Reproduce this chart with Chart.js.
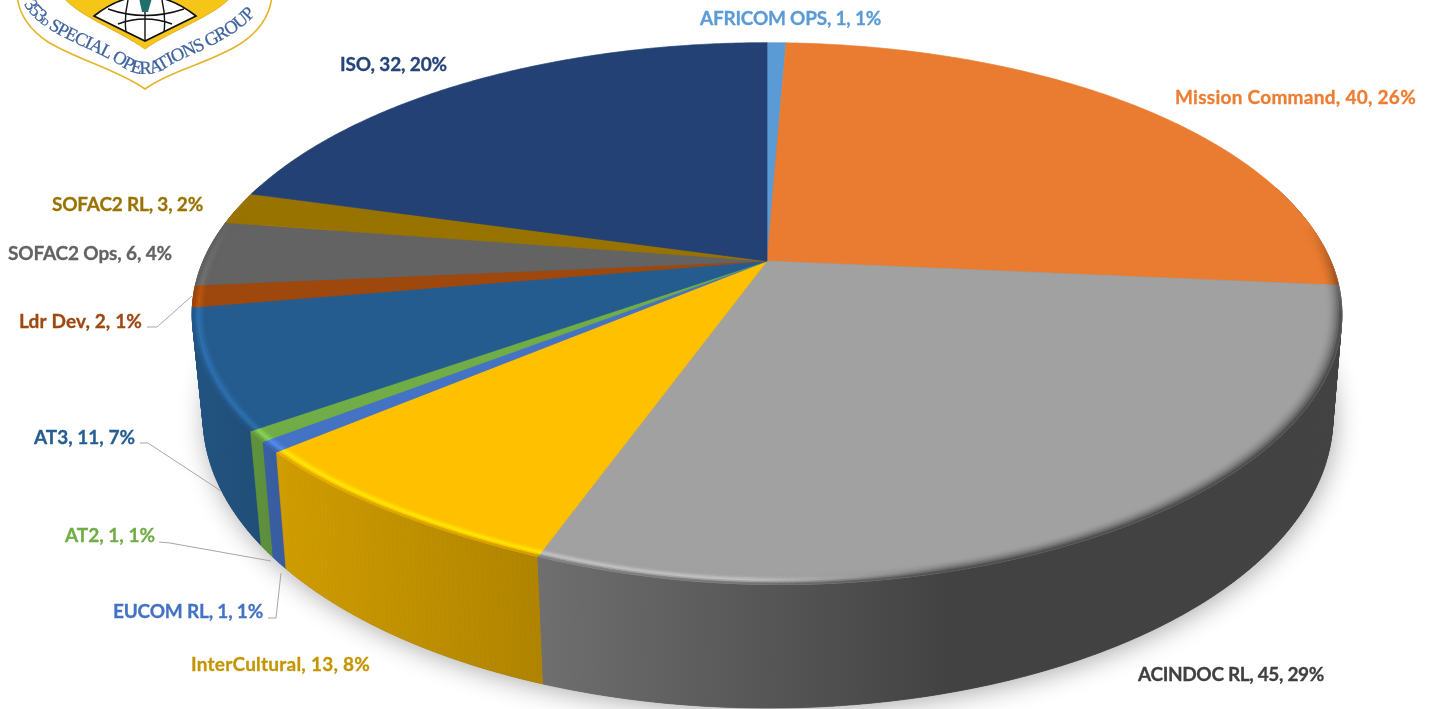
<!DOCTYPE html>
<html>
<head>
<meta charset="utf-8">
<title>Pie</title>
<style>
  html, body { margin: 0; padding: 0; background: #fff; overflow: hidden; }
  #wrap { position: relative; width: 1434px; height: 709px; }
  #logo { position: absolute; left: 0; top: 0; filter: blur(0.4px); }
  #pie { display: block; }
</style>
</head>
<body>
<div id="wrap">
  <canvas id="pie" width="1434" height="709"></canvas>
  <svg id="logo" width="290" height="100" viewBox="0 0 290 100">
    <path d="M17,-4 C19,14 30,30 48,42 C78,60 118,70 145,89 C172,70 212,62 240,44 C260,31 270,16 272,-4 Z" fill="#fff" stroke="#e3b52c" stroke-width="1.6"/>
    <path d="M62,-4 C78,16 118,30 145,49 C172,30 215,16 232,-4 Z" fill="#f5c518" stroke="#d9a81e" stroke-width="0.8"/>
    <path d="M94,16 Q145,-24 196,16 L145,41 Z" fill="#fff" stroke="#111" stroke-width="1.6"/>
    <g fill="none" stroke="#111" stroke-width="1.4">
      <path d="M145,0 L145,41"/>
      <path d="M128,0 Q124,18 126,32"/>
      <path d="M162,0 Q166,18 164,32"/>
      <path d="M108,9 Q145,22 184,9"/>
      <path d="M118,24 Q145,14 172,24"/>
    </g>
    <path d="M139,-2 L152,-2 L148,12 L142,12 Z" fill="#1f6f6a"/>
    <path id="logoArc" d="M24,4 C38,32 88,46 118,64 Q145,84 172,64 C205,48 246,34 264,2" fill="none"/>
    <text font-family="Liberation Serif" font-size="18.5" fill="#3f639e" stroke="#3f639e" stroke-width="0.25">
      <textPath href="#logoArc" textLength="270" lengthAdjust="spacing">353<tspan font-size="10">D</tspan> SPECIAL OPERATIONS GROUP</textPath>
    </text>
  </svg>
</div>
<script src="https://cdn.jsdelivr.net/npm/chart.js@4/dist/chart.umd.min.js"></script>
<script>
const sliceNames = ['AFRICOM OPS', 'Mission Command', 'ACINDOC RL', 'InterCultural', 'EUCOM RL', 'AT2', 'AT3', 'Ldr Dev', 'SOFAC2 Ops', 'SOFAC2 RL', 'ISO'];
const sliceValues = [1, 40, 45, 13, 1, 1, 11, 2, 6, 3, 32];
const slicePercents = [1, 26, 29, 8, 1, 1, 7, 1, 4, 2, 20];
const sliceColors = ['#5B9BD5', '#EA7C31', '#A1A1A1', '#FFC000', '#4472C4', '#70AD47', '#255C8F', '#9E480E', '#636363', '#997300', '#234174'];
const labelColors = ['#5B9BD5', '#ED7D31', '#404040', '#C49500', '#4472C4', '#70AD47', '#255E91', '#9E480E', '#636363', '#997300', '#264478'];

// left edge, middle and width of each label, same order as sliceNames
const labelSpots = [[700, 19], [1175, 98], [1138, 675], [191, 665], [113, 612], [65, 536], [34, 438], [19, 322], [8, 254], [52, 205], [340, 65]];
const labelWidths = [181, 241, 186, 179, 150, 90, 101, 123, 164, 151, 107];
const leaders = [
  [[147, 327], [157, 327], [192, 296]],
  [[140, 443], [148, 443], [221, 491]],
  [[159, 542], [170, 543], [271, 561]],
  [[268, 618], [276, 618], [281, 573]]
];

// the disc is a circle seen in perspective, K is how strong
const K = 0.1956;
const WIDE = 2.16;
const FLOOR = { dx: 1, y: 360, rx: 554, ry: 280 };
const STEP = Math.PI / 360;
const WALL_XS = [200, 290, 540, 950];
const WALL_FS = [0.9, 0.81, 0.69, 0.41];

function hexToRgb(h) {
  return [parseInt(h.slice(1, 3), 16), parseInt(h.slice(3, 5), 16), parseInt(h.slice(5, 7), 16)];
}
function rgb(c) { return 'rgb(' + c.map(n => Math.min(255, Math.round(n))).join(',') + ')'; }
function mix(a, b, t) { return a.map((n, i) => n + (b[i] - n) * t); }
function clamp(n) { return Math.max(0, Math.min(1, n)); }

// side wall gets darker going right
function sideFactor(x) {
  if (x <= WALL_XS[0]) return WALL_FS[0];
  for (let i = 1; i < WALL_XS.length; i++) {
    if (x < WALL_XS[i]) return WALL_FS[i - 1] + (WALL_FS[i] - WALL_FS[i - 1]) * (x - WALL_XS[i - 1]) / (WALL_XS[i] - WALL_XS[i - 1]);
  }
  return WALL_FS[WALL_FS.length - 1];
}

function poly(ctx, p, color) {
  ctx.beginPath();
  ctx.moveTo(p[0][0], p[0][1]);
  for (let i = 1; i < p.length; i++) ctx.lineTo(p[i][0], p[i][1]);
  ctx.closePath();
  ctx.fillStyle = color;
  ctx.strokeStyle = color;
  ctx.lineWidth = 0.7;
  ctx.fill();
  ctx.stroke();
}

const tiltedPie = {
  id: 'tiltedPie',
  beforeDatasetDraw(chart) {
    const ctx = chart.ctx;
    const arcs = chart.getDatasetMeta(0).data;
    const cx = arcs[0].x, cy = arcs[0].y, R = arcs[0].outerRadius;

    const gauss = (a, mid, w) => Math.exp(-Math.pow((a - mid) / w, 2));
    const deg = Math.PI / 180;
    const top = (a, r) => {
      // front left of the rim sits a little inside a true ellipse
      const q = ((a % (2 * Math.PI)) + 2 * Math.PI) % (2 * Math.PI);
      const dent = 1 - 0.018 * gauss(q, 118 * deg, 20 * deg);
      const u = r * dent * Math.cos(a), v = r * dent * Math.sin(a), d = 1 - K * v;
      return [cx + R * WIDE * u / d, cy + R * v / d];
    };
    const floor = a0 => {
      const q = ((a0 % (2 * Math.PI)) + 2 * Math.PI) % (2 * Math.PI);
      const a = a0 - 0.010 * gauss(q, 130 * deg, 40 * deg);
      const u = Math.cos(a), v = Math.sin(a), d = 1 - K * v;
      return [cx + FLOOR.dx + FLOOR.rx * u / d, FLOOR.y + FLOOR.ry * v / d];
    };

    // soft shadow under the whole thing
    ctx.save();
    ctx.shadowColor = 'rgba(0,0,0,0.32)';
    ctx.shadowBlur = 26;
    ctx.shadowOffsetX = 2;
    ctx.shadowOffsetY = 4;
    ctx.beginPath();
    for (let a = 0; a < Math.PI * 2; a += STEP * 2) {
      const p = floor(a);
      ctx.lineTo(p[0], p[1]);
    }
    ctx.closePath();
    ctx.fillStyle = '#555';
    ctx.fill();
    ctx.restore();

    // side wall, back to front, same left to right gradient per slice so pieces don't streak
    const walls = [];
    arcs.forEach((arc, i) => {
      const base = hexToRgb(sliceColors[i]);
      const grad = ctx.createLinearGradient(WALL_XS[0], 0, WALL_XS[WALL_XS.length - 1], 0);
      WALL_XS.forEach((x, n) => {
        grad.addColorStop((x - WALL_XS[0]) / (WALL_XS[WALL_XS.length - 1] - WALL_XS[0]), rgb(base.map(c => c * WALL_FS[n])));
      });
      for (let a = arc.startAngle; a < arc.endAngle; a += STEP) {
        const b = Math.min(a + STEP, arc.endAngle);
        if (Math.sin(a) > -0.3) walls.push({ a, b, grad });
      }
    });
    walls.sort((p, q) => Math.sin(p.a) - Math.sin(q.a));
    walls.forEach(w => poly(ctx, [top(w.a, 1), top(w.b, 1), floor(w.b), floor(w.a)], w.grad));

    // top faces
    arcs.forEach((arc, i) => {
      const pts = [top(0, 0)];
      for (let a = arc.startAngle; a < arc.endAngle; a += STEP) pts.push(top(a, 1));
      pts.push(top(arc.endAngle, 1));
      poly(ctx, pts, sliceColors[i]);
    });

    // bevel along the front rim
    const bands = 7, inner = 0.972;
    arcs.forEach((arc, i) => {
      const base = hexToRgb(sliceColors[i]);
      for (let a = arc.startAngle; a < arc.endAngle; a += STEP) {
        const v = Math.sin(a);
        if (v < -0.2) continue;
        const b = Math.min(a + STEP, arc.endAngle);
        const w = clamp((v + 0.15) / 0.35);
        const x = top(a, 1)[0];
        const lit = clamp((950 - x) / 200);
        const side = base.map(n => n * sideFactor(x));
        const bright = base.map(n => n * 1.25);
        for (let k = 0; k < bands; k++) {
          const t = (k + 0.5) / bands;
          const r1 = inner + (1 - inner) * k / bands;
          const r2 = inner + (1 - inner) * (k + 1) / bands;
          const peak = clamp(1 - Math.abs(t - 0.65) / 0.35);
          let c = mix(base, bright, peak * lit * w);
          const dark = (1 - lit) * t * t + lit * Math.pow(t, 6);
          c = mix(c, side, dark * w);
          poly(ctx, [top(a, r1), top(b, r1), top(b, r2), top(a, r2)], rgb(c));
        }
      }
    });
    return false;
  },
  afterDraw(chart) {
    const ctx = chart.ctx;
    ctx.save();
    ctx.strokeStyle = '#a6a6a6';
    ctx.lineWidth = 1;
    leaders.forEach(line => {
      ctx.beginPath();
      line.forEach((p, i) => i ? ctx.lineTo(p[0], p[1]) : ctx.moveTo(p[0], p[1]));
      ctx.stroke();
    });
    ctx.font = 'bold 19px Lato';
    ctx.textBaseline = 'middle';
    ctx.lineWidth = 0.3;
    sliceNames.forEach((name, i) => {
      const text = name + ', ' + sliceValues[i] + ', ' + slicePercents[i] + '%';
      ctx.letterSpacing = '0px';
      const spare = (labelWidths[i] - ctx.measureText(text).width) / text.length;
      ctx.letterSpacing = spare.toFixed(3) + 'px';
      ctx.fillStyle = labelColors[i];
      ctx.strokeStyle = labelColors[i];
      ctx.fillText(text, labelSpots[i][0], labelSpots[i][1]);
      ctx.strokeText(text, labelSpots[i][0], labelSpots[i][1]);
    });
    ctx.restore();
  }
};

new Chart(document.getElementById('pie').getContext('2d'), {
  type: 'pie',
  data: {
    labels: sliceNames,
    datasets: [{ data: sliceValues, backgroundColor: sliceColors, borderWidth: 0, hoverOffset: 0 }]
  },
  options: {
    responsive: false,
    animation: false,
    layout: { padding: { left: 100, bottom: 187 } },
    events: [],
    plugins: { legend: { display: false }, tooltip: { enabled: false } }
  },
  plugins: [tiltedPie]
});
</script>
</body>
</html>
